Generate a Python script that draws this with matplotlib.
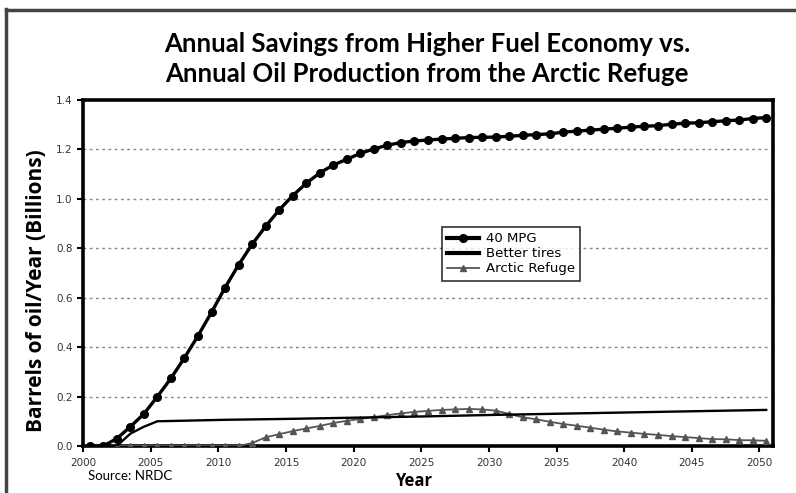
import matplotlib
matplotlib.use("Agg")
import matplotlib.pyplot as plt
from matplotlib.lines import Line2D
import numpy as np

years = list(range(2000, 2051))

mpg40 = [0.0, 0.0, 0.030, 0.078, 0.130, 0.200, 0.274, 0.357, 0.446, 0.541,
         0.641, 0.733, 0.816, 0.889, 0.955, 1.013, 1.063, 1.105, 1.137, 1.160,
         1.184, 1.202, 1.217, 1.228, 1.234, 1.238, 1.242, 1.245, 1.248, 1.249,
         1.250, 1.253, 1.257, 1.260, 1.263, 1.270, 1.274, 1.278, 1.282, 1.286,
         1.290, 1.294, 1.296, 1.302, 1.306, 1.308, 1.312, 1.316, 1.319, 1.325,
         1.329]

tire_years = [2000, 2001, 2002, 2003, 2004, 2005, 2010, 2015, 2020, 2025,
              2030, 2035, 2040, 2045, 2050]
tires = [0.0, 0.0, 0.0, 0.050, 0.078, 0.100, 0.106, 0.110, 0.115, 0.120,
         0.126, 0.131, 0.136, 0.141, 0.146]

arctic = [0.0] * 12 + [
    0.012, 0.035, 0.048, 0.060, 0.071, 0.081, 0.093, 0.102,
    0.109, 0.117, 0.125, 0.132, 0.138, 0.142, 0.146, 0.148, 0.150, 0.148,
    0.143, 0.130, 0.116, 0.108, 0.098, 0.089, 0.082, 0.074, 0.066, 0.059,
    0.054, 0.049, 0.045, 0.040, 0.036, 0.032, 0.028, 0.027, 0.024, 0.023,
    0.021]

yticks = [0.0, 0.2, 0.4, 0.6, 0.8, 1.0, 1.2, 1.4]
xticks = list(range(2000, 2051, 5))

title = "Annual Savings from Higher Fuel Economy vs.\nAnnual Oil Production from the Arctic Refuge"

# each value is plotted at the middle of its year
half = 0.5

fig = plt.figure(figsize=(7.96, 4.93), dpi=100)
ax = fig.add_axes([83 / 796, 1 - 446 / 493, 690 / 796, 346 / 493])

ax.plot(np.array(years) + half, mpg40, color="black", lw=2.4,
        marker="o", ms=5.5, label="40 MPG", zorder=5)
ax.plot(np.array(tire_years) + half, tires, color="black", lw=1.7,
        label="Better tires", zorder=4)
ax.plot(np.array(years) + half, arctic, color="#555555", lw=1.3,
        marker="^", ms=5, label="Arctic Refuge", zorder=3)

ax.set_xlim(2000, 2051)
ax.set_ylim(0, 1.4)
ax.set_xticks(xticks)
ax.set_yticks(yticks)
ax.set_yticklabels([f"{v:.1f}" for v in yticks])
ax.tick_params(axis="both", labelsize=7.5, colors="black", length=4, width=1.5,
               labelcolor="#333333")
ax.tick_params(axis="x", pad=5)

for y in yticks[1:-1]:
    ax.axhline(y, color="#888888", lw=1.0, ls=(0, (2, 2.5)), zorder=1)

for s in ax.spines.values():
    s.set_linewidth(2.6)
    s.set_color("black")

fig.text(37 / 796, 1 - 291 / 493, "Barrels of oil/Year (Billions)", rotation=90,
         ha="center", va="center", fontsize=15, fontweight="bold",
         family="Open Sans")

fig.text(427 / 796, 1 - 59 / 493, title, ha="center", va="center",
         fontsize=18.5, fontweight="bold", family="Lato", linespacing=1.35)
fig.text(414 / 796, 1 - 481 / 493, "Year", ha="center", va="center",
         fontsize=12, fontweight="bold", family="Open Sans")
fig.text(88 / 796, 1 - 476 / 493, "Source: NRDC", ha="left", va="center",
         fontsize=9.5, family="Lato")

leg = ax.legend(loc="upper left", bbox_to_anchor=((442 - 83) / 690, (446 - 227) / 346),
                frameon=True, fancybox=False, edgecolor="black", fontsize=9.5,
                handlelength=2.4, borderpad=0.4, labelspacing=0.15,
                handletextpad=0.5, borderaxespad=0)
leg.get_frame().set_linewidth(1.2)
for h in leg.get_lines()[:2]:
    h.set_linewidth(3.0)

# scan frame around the figure
fig.add_artist(Line2D([6 / 796, 6 / 796], [0, 1 - 9 / 493], color="#444444", lw=2.5))
fig.add_artist(Line2D([6 / 796, 1], [1 - 10 / 493, 1 - 10 / 493], color="#444444", lw=2.5))

fig.savefig("out.png", dpi=100)
